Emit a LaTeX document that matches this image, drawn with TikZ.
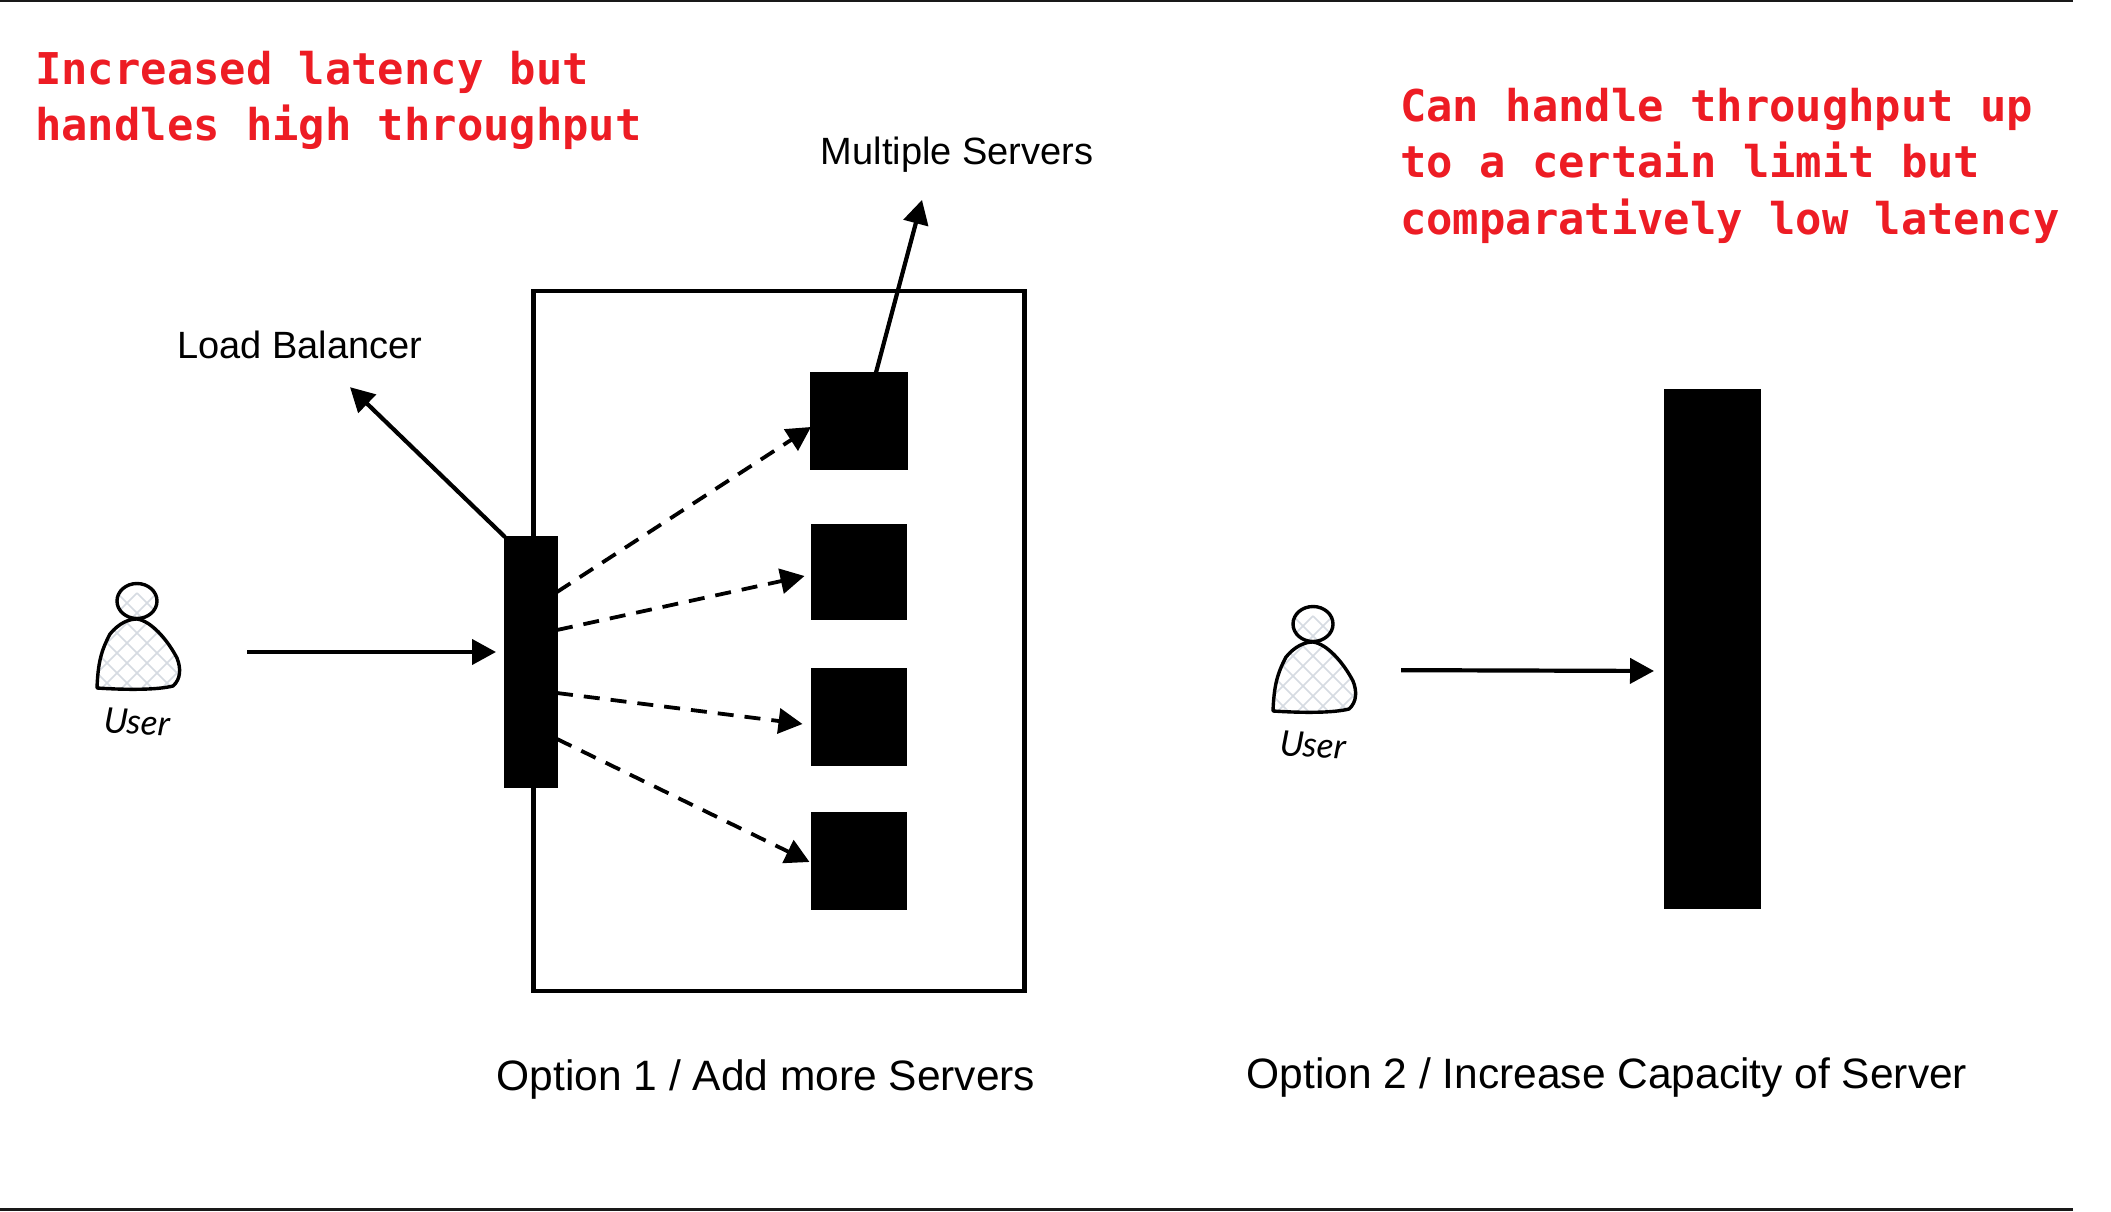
\documentclass[tikz,border=0pt]{standalone}
\usepackage{fontspec}
\setmainfont{Liberation Sans}
\newfontfamily\redmono{DejaVu Sans Mono}[BoldFont=* Bold]
\newfontfamily\handfont{Lato}[ItalicFont=* Italic]
\usetikzlibrary{arrows.meta,calc}
\definecolor{redtxt}{RGB}{237,28,36}
\definecolor{hatch}{RGB}{214,219,226}
\tikzset{
  solidbox/.style={draw=black,fill=black,line width=1.5pt,inner sep=0pt,outer sep=0pt},
  ghost/.style={inner sep=0pt,outer sep=0pt,minimum width=84pt,minimum height=72pt},
  conn/.style={line width=4.2pt,-{Triangle[length=24pt,width=25pt]}},
  dashconn/.style={line width=3.8pt,dash pattern=on 16pt off 11pt,-{Triangle[length=24pt,width=25pt,sep=0pt]}},
  lbl/.style={inner sep=0pt,font=\fontsize{38}{38}\selectfont},
  biglbl/.style={inner sep=0pt,font=\fontsize{42.5}{42.5}\selectfont},
  redlbl/.style={inner sep=0pt,anchor=north west,align=left,text=redtxt,font=\redmono\bfseries\fontsize{43.8}{56.4}\selectfont},
  usertxt/.style={inner sep=0pt,font=\handfont\itshape\fontsize{35}{35}\selectfont},
  rule/.style={line width=2.4pt,black!90}
}
\newcommand{\userglyph}[2]{%
\begin{scope}[shift={(#1,#2)}]
  \begin{scope}
    \clip (-40,35) .. controls (-39,10) and (-36,-2) .. (-27,-19) .. controls (-18,-30) and (-8,-34) .. (0,-34)
      .. controls (14,-32) and (30,-14) .. (40,5) .. controls (44,15) and (44,26) .. (36,33) .. controls (20,37) and (-10,37) .. (-40,35) -- cycle;
    \foreach \k in {-120,-100,...,120}{
      \draw[hatch,line width=1.6pt] (\k-60,-60) -- (\k+60,60);
      \draw[hatch,line width=1.6pt] (\k+60,-60) -- (\k-60,60);
    }
  \end{scope}
  \draw[line width=3.4pt,line join=round] (-40,35) .. controls (-39,10) and (-36,-2) .. (-27,-19) .. controls (-18,-30) and (-8,-34) .. (0,-34)
      .. controls (14,-32) and (30,-14) .. (40,5) .. controls (44,15) and (44,26) .. (36,33) .. controls (20,37) and (-10,37) .. (-40,35) -- cycle;
  \begin{scope}
    \clip (0,-52) ellipse (20 and 17.5);
    \foreach \k in {-120,-100,...,120}{
      \draw[hatch,line width=1.6pt] (\k-60,-60) -- (\k+60,60);
      \draw[hatch,line width=1.6pt] (\k+60,-60) -- (\k-60,60);
    }
  \end{scope}
  \draw[line width=3.4pt] (0,-52) ellipse (20 and 17.5);
\end{scope}}
\begin{document}
\begin{tikzpicture}[x=1pt,y=-1pt]
\useasboundingbox[fill=white] (0,0) rectangle (2111,1212);
% frame rules
\draw[rule] (0,0.8) -- (2073,0.8);
\draw[rule] (0,1209.5) -- (2073,1209.5);
% red remarks
\node[redlbl] (remarkA) at (35,51) {Increased latency but\\handles high throughput};
\node[redlbl] (remarkB) at (1400,88) {Can handle throughput up\\to a certain limit but\\comparatively low latency};
% option 1 enclosure
\node[draw=black,line width=4.4pt,fill=white,inner sep=0pt,minimum width=491pt,minimum height=700pt] (pool) at (779,641) {};
% servers
\node[solidbox,minimum width=96pt,minimum height=97pt] (s1) at (859,421) {};
\node[solidbox,minimum width=95pt,minimum height=94pt] (s2) at (859,572) {};
\node[solidbox,minimum width=95pt,minimum height=96pt] (s3) at (859,717) {};
\node[solidbox,minimum width=95pt,minimum height=96pt] (s4) at (859,861) {};
\node[solidbox,minimum width=52pt,minimum height=250pt] (lb) at (531,662) {};
\node[solidbox,minimum width=95pt,minimum height=519pt] (big) at (1712.5,649) {};
% labels
\node[lbl] (mslabel) at (957,155) {Multiple Servers};
\node[lbl] (lblabel) at (300,345) {Load Balancer};
\node[biglbl] (opt1) at (766,1079) {Option 1 / Add more Servers};
\node[biglbl] (opt2) at (1607,1077) {Option 2 / Increase Capacity of Server};
% users
\userglyph{137}{653}
\userglyph{1313}{676}
\node[ghost] (u1) at (137,652) {};
\node[ghost] (u2) at (1314,670) {};
\node[usertxt,rotate=-4] (u1txt) at (137,722) {User};
\node[usertxt,rotate=-4] (u2txt) at (1313,745) {User};
% connectors
\draw[conn,shorten <=68pt,shorten >=9pt] (u1.east) -- ([yshift=10pt]lb.west);
\draw[conn,shorten <=45pt,shorten >=11pt] (u2.east) -- ([yshift=-22pt]big.west);
\draw[conn] (lb.north west) -- ([xshift=50pt,yshift=-28pt]lblabel.south);
\draw[conn] ([xshift=17pt]s1.north) -- ([xshift=-35pt,yshift=-27pt]mslabel.south);
\draw[dashconn] ([yshift=70pt]lb.east) -- ([yshift=-6pt]s1.west);
\draw[dashconn] ([yshift=32pt]lb.east) -- ([xshift=-7pt,yshift=-4pt]s2.west);
\draw[dashconn] ([yshift=-31pt]lb.east) -- ([xshift=-9pt,yshift=-7pt]s3.west);
\draw[dashconn] ([yshift=-77pt]lb.east) -- ([xshift=-2pt,yshift=-1pt]s4.west);
\end{tikzpicture}
\end{document}
